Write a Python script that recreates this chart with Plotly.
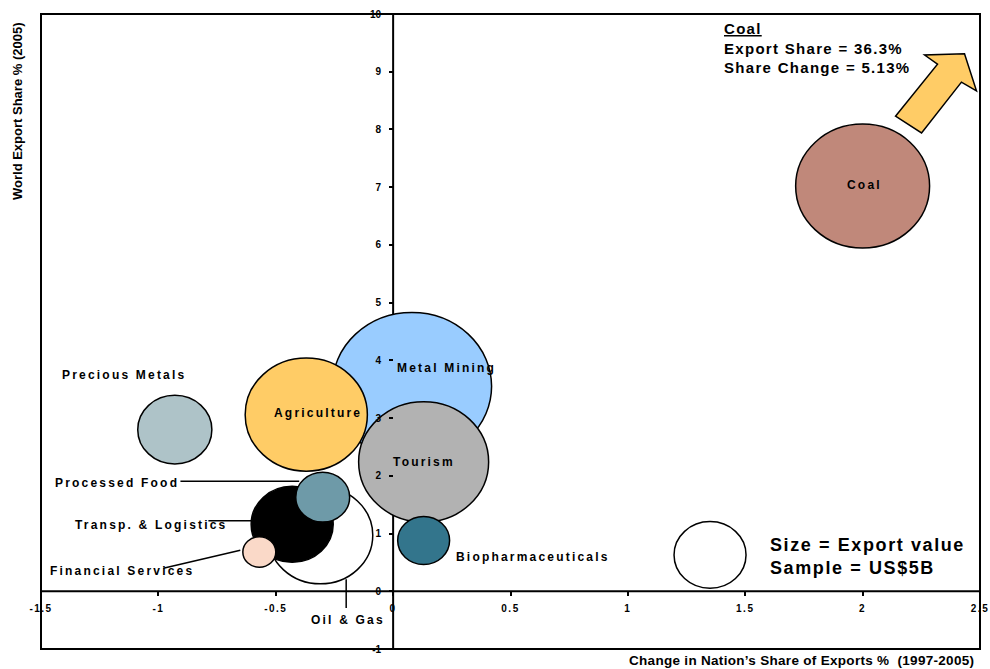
import math
import plotly.graph_objects as go

# ---------------- data ----------------
sectors = ["Metal Mining", "Agriculture", "Tourism", "Coal", "Precious Metals",
           "Oil & Gas", "Transp. & Logistics", "Processed Food",
           "Financial Services", "Biopharmaceuticals"]
share_change = [0.08, -0.37, 0.13, 2.00, -0.93, -0.31, -0.43, -0.30, -0.57, 0.13]   # x, %
export_share = [3.55, 3.06, 2.24, 7.02, 2.80, 0.97, 1.16, 1.63, 0.68, 0.88]         # y, %
export_value = [24.5, 14.4, 16.3, 17.3, 5.3, 10.6, 6.5, 2.8, 1.05, 2.6]            # US$B
sample_value = 5.0
sample_pos = (1.35, 0.63)

x_ticks = [-1.5, -1, -0.5, 0, 0.5, 1, 1.5, 2, 2.5]
y_ticks = list(range(-1, 11))

# ---------------- styles ----------------
colors = {
    "Metal Mining": "#99CCFF", "Agriculture": "#FFCC66", "Tourism": "#B2B2B2",
    "Coal": "#C0887A", "Precious Metals": "#AEC3C8", "Oil & Gas": "#FFFFFF",
    "Transp. & Logistics": "#000000", "Processed Food": "#6E9AA8",
    "Financial Services": "#FAD9C8", "Biopharmaceuticals": "#33758C",
}
FONT = "Arial, 'Liberation Sans', sans-serif"
W, H = 990, 669
ML, MR, MT, MB = 41, 10, 14, 20
XR, YR = (-1.5, 2.5), (-1, 10)
px_x = (W - ML - MR) / (XR[1] - XR[0])
px_y = (H - MT - MB) / (YR[1] - YR[0])
SAMPLE_PX = 72.0   # on-screen width of the US$5B bubble
ASPECT = 1.08      # bubbles slightly wider than tall


def bubble(cx, cy, value, fill):
    dpx = SAMPLE_PX * math.sqrt(value / sample_value)
    rx = dpx / 2 / px_x
    ry = dpx / ASPECT / 2 / px_y
    return dict(type="circle", xref="x", yref="y", layer="below",
                x0=cx - rx, x1=cx + rx, y0=cy - ry, y1=cy + ry,
                fillcolor=fill, line=dict(color="black", width=1.5))


shapes = []
# axis lines through the origin (under bubbles)
shapes.append(dict(type="line", xref="x", yref="y", layer="below",
                   x0=0, x1=0, y0=YR[0], y1=YR[1], line=dict(color="black", width=2)))
shapes.append(dict(type="line", xref="x", yref="y", layer="below",
                   x0=XR[0], x1=XR[1], y0=0, y1=0, line=dict(color="black", width=2)))
for s, x, y, v in zip(sectors, share_change, export_share, export_value):
    shapes.append(bubble(x, y, v, colors[s]))
shapes.append(bubble(sample_pos[0], sample_pos[1], sample_value, "#FFFFFF"))

# leader lines for labels
leaders = [
    ((-0.906, 1.906), (-0.40, 1.906)),   # Processed Food
    ((-0.787, 1.22), (-0.60, 1.22)),     # Transp. & Logistics
    ((-0.979, 0.40), (-0.651, 0.71)),    # Financial Services
    ((-0.20, 0.21), (-0.20, -0.29)),     # Oil & Gas
]
for (a, b) in leaders:
    shapes.append(dict(type="line", xref="x", yref="y", layer="above",
                       x0=a[0], y0=a[1], x1=b[0], y1=b[1],
                       line=dict(color="black", width=1.5)))

# arrow (decoration)
arrow_pts = [(2.140, 8.23), (2.319, 9.13), (2.264, 9.29), (2.434, 9.31),
             (2.485, 8.67), (2.421, 8.82), (2.251, 7.94)]
path = "M " + " L ".join(f"{x},{y}" for x, y in arrow_pts) + " Z"
shapes.append(dict(type="path", xref="x", yref="y", path=path, layer="above",
                   fillcolor="#FFCC66", line=dict(color="black", width=1.5)))

# frame
shapes.append(dict(type="rect", xref="paper", yref="paper", x0=0, x1=1, y0=0, y1=1,
                   layer="above", line=dict(color="black", width=2)))


def spaced(t, sp=2.2):
    return f"<span style='letter-spacing:{sp}px'>{t}</span>"


labels = [
    ("Precious Metals", -1.421, 3.74, "left"),
    ("Agriculture", -0.32, 3.08, "center"),
    ("Metal Mining", 0.226, 3.86, "center"),
    ("Tourism", 0.13, 2.24, "center"),
    ("Coal", 2.01, 7.04, "center"),
    ("Processed Food", -1.45, 1.87, "left"),
    ("Transp. & Logistics", -1.362, 1.14, "left"),
    ("Financial Services", -1.472, 0.35, "left"),
    ("Oil & Gas", -0.357, -0.49, "left"),
    ("Biopharmaceuticals", 0.26, 0.59, "left"),
]
annotations = []
for t, x, y, anc in labels:
    annotations.append(dict(x=x, y=y, xref="x", yref="y", text=spaced(t),
                            showarrow=False, xanchor=anc, yanchor="middle",
                            font=dict(family=FONT, size=12, color="black", weight="bold")))

coal_lines = ["<u>Coal</u>", "Export Share = 36.3%", "Share Change = 5.13%"]
annotations.append(dict(x=1.40, y=9.93, xref="x", yref="y", showarrow=False,
                        xanchor="left", yanchor="top", align="left",
                        text="<br>".join(spaced(t, 1.3) for t in coal_lines),
                        font=dict(family=FONT, size=15, color="black", weight="bold")))
legend_lines = ["Size = Export value", "Sample = US$5B"]
annotations.append(dict(x=1.596, y=0.61, xref="x", yref="y", showarrow=False,
                        xanchor="left", yanchor="middle", align="left",
                        text="<br>".join(spaced(t, 1.6) for t in legend_lines),
                        font=dict(family=FONT, size=18, color="black", weight="bold")))
annotations.append(dict(x=(18 - ML) / (W - ML - MR), y=(H - MB - 112) / (H - MT - MB),
                        xref="paper", yref="paper", showarrow=False, textangle=-90,
                        xanchor="center", yanchor="middle",
                        text="World Export Share % (2005)",
                        font=dict(family=FONT, size=13, color="black", weight="bold")))
annotations.append(dict(x=(976 - ML) / (W - ML - MR), y=(H - MB - 660) / (H - MT - MB),
                        xref="paper", yref="paper", showarrow=False,
                        xanchor="right", yanchor="middle",
                        text=spaced("Change in Nation\u2019s Share of Exports %  (1997-2005)", 0.3),
                        font=dict(family=FONT, size=13.5, color="black", weight="bold")))

fig = go.Figure()
# invisible trace to activate the axes
fig.add_trace(go.Scatter(x=share_change, y=export_share, mode="markers",
                         marker=dict(opacity=0), hoverinfo="skip", showlegend=False))

tickfont = dict(family=FONT, size=10, color="black", weight="bold")
fig.update_layout(
    width=W, height=H, margin=dict(l=ML, r=MR, t=MT, b=MB, autoexpand=False),
    paper_bgcolor="white", plot_bgcolor="white", showlegend=False,
    xaxis=dict(range=list(XR), domain=[0, 1], anchor="free", automargin=False,
               position=(0 - YR[0]) / (YR[1] - YR[0]),
               showgrid=False, zeroline=False, showline=False,
               ticks="outside", ticklen=4, tickwidth=1.5, tickcolor="black",
               tickvals=x_ticks, ticktext=[spaced(f"{v:g}", 1.5) for v in x_ticks],
               tickfont=tickfont, ticklabelstandoff=4),
    yaxis=dict(range=list(YR), domain=[0, 1], anchor="free", automargin=False,
               position=(0 - XR[0]) / (XR[1] - XR[0]),
               showgrid=False, zeroline=False, showline=False,
               ticks="outside", ticklen=4, tickwidth=1.5, tickcolor="black",
               tickvals=y_ticks, ticktext=[str(v) for v in y_ticks],
               tickfont=tickfont, ticklabelstandoff=6),
    shapes=shapes, annotations=annotations,
)
fig.write_html("out.html")
